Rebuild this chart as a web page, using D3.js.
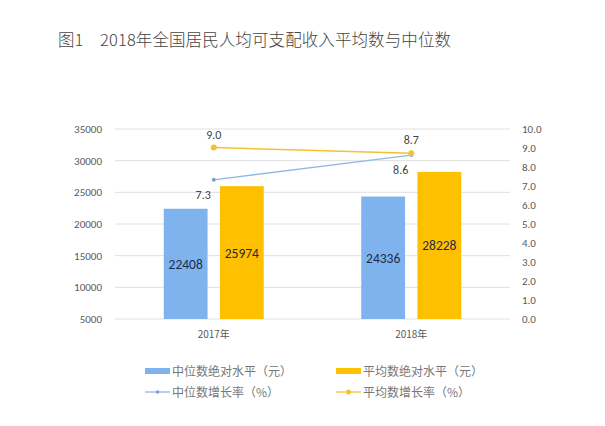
<!DOCTYPE html>
<html><head><meta charset="utf-8">
<script src="https://cdn.jsdelivr.net/npm/d3@7"></script>
<style>body{margin:0;background:#fff;}svg{display:block;font-family:"Microsoft YaHei","Noto Sans CJK SC",sans-serif;}</style>
</head><body>
<svg id="c" width="605" height="426"></svg>
<script>
const categories = ["2017年", "2018年"];
const medianLevel = [22408, 24336];
const meanLevel = [25974, 28228];
const medianGrowth = [7.3, 8.6];
const meanGrowth = [9.0, 8.7];
const leftTicks = [5000, 10000, 15000, 20000, 25000, 30000, 35000];
const rightTicks = [0, 1, 2, 3, 4, 5, 6, 7, 8, 9, 10];
const seriesNames = ["中位数绝对水平（元）", "平均数绝对水平（元）", "中位数增长率（%）", "平均数增长率（%）"];
const title = "图1　2018年全国居民人均可支配收入平均数与中位数";

const svg = d3.select("#c");
const blue = "#7fb3ee", gold = "#ffc000", blueLine = "#93b9e6", goldLine = "#f2c230";
const L = 115, R = 510, T = 129, B = 319;

const x = d3.scaleBand().domain(categories).range([L, R]);
const xi = d3.scaleBand().domain([0, 1]).range([0, 100]).paddingInner(0.22);
const yL = d3.scaleLinear().domain([5000, 35000]).range([B, T]);
const yR = d3.scaleLinear().domain([0, 10]).range([B - 0.5, T - 0.5]);

svg.append("text").attr("x", 58).attr("y", 46).attr("font-size", 16.5).attr("font-weight", 300)
  .attr("fill", "#444").attr("textLength", 393).attr("lengthAdjust", "spacing").text(title);

// grid
svg.append("g").selectAll("line").data(leftTicks).join("line")
  .attr("x1", L).attr("x2", R).attr("y1", d => yL(d)).attr("y2", d => yL(d))
  .attr("stroke", "#e0e0e0").attr("stroke-width", 1);

// left axis
const gl = svg.append("g").attr("transform", `translate(${L},0)`)
  .call(d3.axisLeft(yL).tickValues(leftTicks).tickSize(0).tickPadding(13).tickFormat(d3.format("d")));
gl.select(".domain").remove();
gl.selectAll("text").attr("font-size", 11).attr("fill", "#595959").attr("font-family", "Calibri,Carlito,'Liberation Sans',sans-serif");

// right axis
const gr = svg.append("g").attr("transform", `translate(${R},0)`)
  .call(d3.axisRight(yR).tickValues(rightTicks).tickSize(0).tickPadding(12).tickFormat(d3.format(".1f")));
gr.select(".domain").remove();
gr.selectAll("text").attr("font-size", 11).attr("fill", "#595959").attr("font-family", "Calibri,Carlito,'Liberation Sans',sans-serif");

// bars
const groupOff = (x.bandwidth() - 100) / 2;
const barData = [];
categories.forEach((c, i) => {
  barData.push({c, k: 0, v: medianLevel[i], col: blue});
  barData.push({c, k: 1, v: meanLevel[i], col: gold});
});
svg.append("g").selectAll("rect").data(barData).join("rect")
  .attr("x", d => x(d.c) + groupOff + xi(d.k))
  .attr("width", xi.bandwidth())
  .attr("y", d => yL(d.v)).attr("height", d => yL(5000) - yL(d.v))
  .attr("fill", d => d.col);
svg.append("g").selectAll("text").data(barData).join("text")
  .attr("x", d => x(d.c) + groupOff + xi(d.k) + xi.bandwidth() / 2)
  .attr("y", d => (yL(d.v) + yL(5000)) / 2 + 5)
  .attr("text-anchor", "middle").attr("font-size", 13.5).attr("fill", "#1c2b4a")
  .attr("font-family", "Calibri,Carlito,'Liberation Sans',sans-serif")
  .text(d => d.v);

// x labels
svg.append("g").selectAll("text").data(categories).join("text")
  .attr("x", d => x(d) + x.bandwidth() / 2).attr("y", 338)
  .attr("text-anchor", "middle").attr("font-size", 10).attr("fill", "#595959").text(d => d);

// lines
const cx = c => x(c) + x.bandwidth() / 2;
const line = d3.line().x((d, i) => cx(categories[i])).y(d => yR(d));
svg.append("path").datum(medianGrowth).attr("d", line).attr("fill", "none").attr("stroke", blueLine).attr("stroke-width", 1.3);
svg.append("path").datum(meanGrowth).attr("d", line).attr("fill", "none").attr("stroke", goldLine).attr("stroke-width", 1.5);
svg.append("g").selectAll("circle").data(medianGrowth).join("circle")
  .attr("cx", (d, i) => cx(categories[i])).attr("cy", d => yR(d)).attr("r", 2).attr("fill", "#7e9fd0");
svg.append("g").selectAll("circle").data(meanGrowth).join("circle")
  .attr("cx", (d, i) => cx(categories[i])).attr("cy", d => yR(d)).attr("r", 3).attr("fill", goldLine);

const lf = d3.format(".1f");
svg.append("g").selectAll("text").data(meanGrowth).join("text")
  .attr("x", (d, i) => cx(categories[i])).attr("y", d => yR(d) - 9)
  .attr("text-anchor", "middle").attr("font-size", 12).attr("fill", "#444")
  .attr("font-family", "Calibri,Carlito,'Liberation Sans',sans-serif").text(d => lf(d));
svg.append("g").selectAll("text").data(medianGrowth).join("text")
  .attr("x", (d, i) => cx(categories[i]) - 7).attr("y", d => yR(d) + 19)
  .attr("text-anchor", "end").attr("dx", 4).attr("font-size", 12).attr("fill", "#444")
  .attr("font-family", "Calibri,Carlito,'Liberation Sans',sans-serif").text(d => lf(d));

// legend
const leg = [
  {n: seriesNames[0], x: 145, y: 371, t: "rect", c: blue},
  {n: seriesNames[1], x: 336, y: 371, t: "rect", c: gold},
  {n: seriesNames[2], x: 145, y: 392, t: "line", c: blueLine, m: "#7e9fd0", r: 1.8},
  {n: seriesNames[3], x: 336, y: 392, t: "line", c: goldLine, m: goldLine, r: 2.5}
];
const lg = svg.append("g").selectAll("g").data(leg).join("g");
lg.filter(d => d.t === "rect").append("rect")
  .attr("x", d => d.x).attr("y", d => d.y - 3).attr("width", 25).attr("height", 6).attr("fill", d => d.c);
lg.filter(d => d.t === "line").append("line")
  .attr("x1", d => d.x).attr("x2", d => d.x + 25).attr("y1", d => d.y).attr("y2", d => d.y)
  .attr("stroke", d => d.c).attr("stroke-width", 1.3);
lg.filter(d => d.t === "line").append("circle")
  .attr("cx", d => d.x + 12.5).attr("cy", d => d.y).attr("r", d => d.r).attr("fill", d => d.m);
lg.append("text").attr("x", d => d.x + 27).attr("y", d => d.y + 4.5)
  .attr("font-size", 12).attr("fill", "#777").text(d => d.n);
</script>
</body></html>
